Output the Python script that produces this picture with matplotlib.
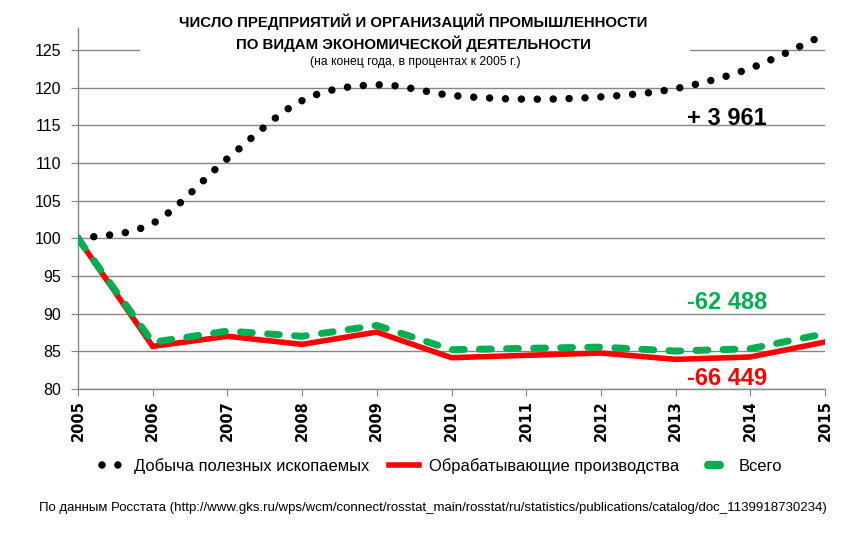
import matplotlib
matplotlib.use('Agg')
import matplotlib.pyplot as plt
from matplotlib import font_manager
from matplotlib.path import Path
from matplotlib.patches import PathPatch, Rectangle
from matplotlib.lines import Line2D
import numpy as np

# данные (на конец года, % к 2005 г.)
years = [2005, 2006, 2007, 2008, 2009, 2010, 2011, 2012, 2013, 2014, 2015]
mining = [100, 102.0, 110.6, 118.3, 120.4, 119.0, 118.5, 118.8, 119.9, 122.6, 127.1]
manufacturing = [100, 85.66, 87.0, 85.93, 87.56, 84.16, 84.47, 84.78, 83.94, 84.25, 86.24]
total = [100, 86.2, 87.7, 87.0, 88.45, 85.22, 85.4, 85.57, 85.04, 85.35, 87.35]
yticks = [80, 85, 90, 95, 100, 105, 110, 115, 120, 125]

labels = ['Добыча полезных ископаемых', 'Обрабатывающие производства', 'Всего']
title1 = 'ЧИСЛО ПРЕДПРИЯТИЙ И ОРГАНИЗАЦИЙ ПРОМЫШЛЕННОСТИ'
title2 = 'ПО ВИДАМ ЭКОНОМИЧЕСКОЙ ДЕЯТЕЛЬНОСТИ'
subtitle = '(на конец года, в процентах к 2005 г.)'
source = ('По данным Росстата (http://www.gks.ru/wps/wcm/connect/rosstat_main/'
          'rosstat/ru/statistics/publications/catalog/doc_1139918730234)')
notes = ['+ 3 961', '-62 488', '-66 449']

RED = '#ff0000'
GREEN = '#00b050'
GRID = '#868686'

try:
    font_manager.findfont('Liberation Sans Narrow', fallback_to_default=False)
    NARROW = 'Liberation Sans Narrow'
except Exception:
    NARROW = 'Liberation Sans'
plt.rcParams['font.family'] = [NARROW, 'DejaVu Sans']


def smooth_path(xs, ys):
    # сглаженная линия как в Excel (кривые Безье через точки)
    p = np.column_stack([xs, ys]).astype(float)
    n = len(p)
    verts = [p[0]]
    codes = [Path.MOVETO]
    for i in range(n - 1):
        p0 = p[i - 1] if i > 0 else p[i]
        p3 = p[i + 2] if i + 2 < n else p[i + 1]
        c1 = p[i] + (p[i + 1] - p0) / 6
        c2 = p[i + 1] - (p3 - p[i]) / 6
        verts += [c1, c2, p[i + 1]]
        codes += [Path.CURVE4] * 3
    return Path(verts, codes)


fig = plt.figure(figsize=(8.65, 5.44), dpi=100)
ax = fig.add_axes([78 / 865, 155 / 544, 747 / 865, 361 / 544])

ax.set_xlim(2005, 2015)
ax.set_ylim(80, 127.95)
ax.set_xticks(years)
ax.set_xticklabels([str(y) for y in years], rotation=90, fontweight='bold',
                   fontsize=10.5, family='DejaVu Sans')
ax.set_yticks(yticks)
ax.set_yticklabels([str(v) for v in yticks], fontsize=11.5)
ax.tick_params(axis='x', direction='out', length=5, color=GRID, pad=3)
ax.tick_params(axis='y', direction='out', length=5, color=GRID, pad=7)
ax.yaxis.grid(True, color=GRID, linewidth=1)
ax.set_axisbelow(True)
for s in ['top', 'right']:
    ax.spines[s].set_visible(False)
for s in ['left', 'bottom']:
    ax.spines[s].set_color(GRID)
    ax.spines[s].set_linewidth(1)

# белая подложка под заголовок (закрывает линию сетки)
fig.patches.append(Rectangle((140 / 865, 1 - 74 / 544), 550 / 865, 66 / 544,
                             transform=fig.transFigure, facecolor='white',
                             edgecolor='none', zorder=1))

ax.add_patch(PathPatch(smooth_path(years, mining), fill=False, color='black',
                       linewidth=5.4, linestyle=(0, (0.001, 2.12)),
                       capstyle='round', zorder=3))
ax.plot(years, manufacturing, color=RED, linewidth=4, solid_joinstyle='miter',
        zorder=4)
ax.plot(years, total, color=GREEN, linewidth=5, linestyle=(0, (1.7, 2.2)),
        dash_capstyle='round', zorder=5)

ax.text(2013.15, 115.9, notes[0], fontsize=17, fontweight='bold', color='black',
        ha='left', va='center')
ax.text(2013.15, 91.5, notes[1], fontsize=17, fontweight='bold', color=GREEN,
        ha='left', va='center')
ax.text(2013.15, 81.4, notes[2], fontsize=17, fontweight='bold', color=RED,
        ha='left', va='center')

fig.text(0.4775, 1 - 22 / 544, title1, fontsize=10.8, fontweight='bold',
         ha='center', va='center', zorder=2)
fig.text(0.4775, 1 - 44 / 544, title2, fontsize=10.8, fontweight='bold',
         ha='center', va='center', zorder=2)
fig.text(0.48, 1 - 62 / 544, subtitle, fontsize=8.7, ha='center', va='center',
         zorder=2)

handles = [
    Line2D([], [], color='black', linewidth=5.4, linestyle=(1.19, (0.001, 2.12)),
           dash_capstyle='round'),
    Line2D([], [], color=RED, linewidth=4),
    Line2D([], [], color=GREEN, linewidth=6, linestyle=(5.3, (1.4, 5.0)),
           dash_capstyle='round'),
]
fig.legend(handles, labels, loc='center', ncol=3, frameon=False,
           bbox_to_anchor=(0.507, 1 - 466 / 544), fontsize=11.9,
           handlelength=1.8, columnspacing=1.2, handletextpad=0.6)

fig.text(0.5, 1 - 508 / 544, source, fontsize=9.5, ha='center', va='center')

fig.savefig('out.png', dpi=100)
